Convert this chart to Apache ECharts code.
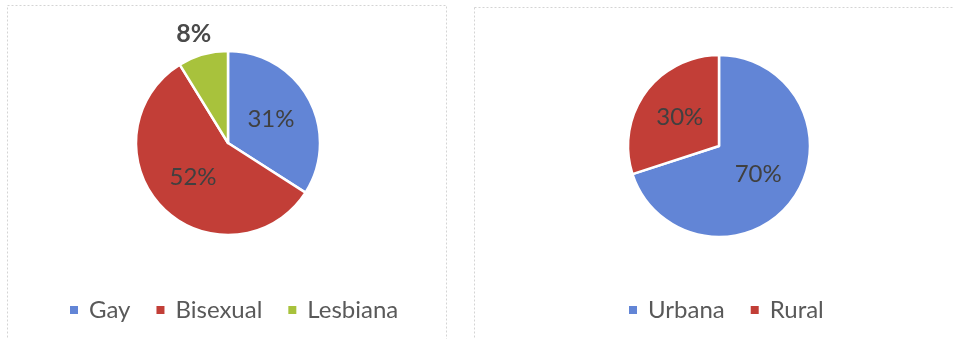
<!DOCTYPE html>
<html>
<head>
<meta charset="utf-8">
<script src="https://cdn.jsdelivr.net/npm/echarts@6/dist/echarts.min.js"></script>
<style>
  html, body { margin: 0; padding: 0; background: #fff; }
  #chart { width: 953px; height: 339px; }
</style>
</head>
<body>
<div id="chart"></div>
<script>
// Orientation (left pie) and area of residence (right pie), in percent
const orientCategories = ['Gay', 'Bisexual', 'Lesbiana'];
const orientValues = [31, 52, 8];
const areaCategories = ['Urbana', 'Rural'];
const areaValues = [70, 30];

const BLUE = '#6285d6';
const RED = '#c23e37';
const GREEN = '#a8c23c';
const TEXT = '#404040';
const FONT = 'Lato, "Open Sans", sans-serif';

const chart = echarts.init(document.getElementById('chart'), null, { renderer: 'canvas' });

function toData(names, values, colors, outsideIdx) {
  return names.map((n, i) => {
    const d = { name: n, value: values[i], itemStyle: { color: colors[i] } };
    if (i === outsideIdx) {
      d.label = { position: 'outside', distance: 6, fontSize: 25, fontWeight: 'bold', color: '#4a4a4a' };
      d.labelLine = { show: false };
    }
    return d;
  });
}

const pieBase = {
  type: 'pie',
  radius: 92,
  startAngle: 90,
  clockwise: true,
  avoidLabelOverlap: false,
  silent: true,
  itemStyle: { borderColor: '#fff', borderWidth: 2.5 },
  label: {
    show: true,
    position: 'inside',
    formatter: '{c}%',
    color: TEXT,
    fontSize: 24,
    fontFamily: FONT
  },
  labelLine: { show: false }
};

const legendBase = {
  orient: 'horizontal',
  icon: 'rect',
  itemWidth: 10,
  itemHeight: 10,
  itemGap: 24,
  top: 293,
  textStyle: { color: '#595959', fontSize: 24, fontFamily: FONT, padding: [0, 0, 0, 5] }
};

chart.setOption({
  animation: false,
  backgroundColor: '#fff',
  graphic: [
    {
      type: 'rect',
      shape: { x: 7.5, y: 5.5, width: 439, height: 345 },
      style: { fill: 'none', stroke: '#d4d4d4', lineWidth: 1, lineDash: [2, 2] },
      silent: true
    },
    {
      type: 'rect',
      shape: { x: 474.5, y: 7.5, width: 490, height: 345 },
      style: { fill: 'none', stroke: '#d4d4d4', lineWidth: 1, lineDash: [2, 2] },
      silent: true
    }
  ],
  legend: [
    Object.assign({}, legendBase, { data: orientCategories, left: 63 }),
    Object.assign({}, legendBase, { data: areaCategories, left: 622 })
  ],
  series: [
    Object.assign({}, pieBase, {
      name: 'orientacion',
      center: [228, 143],
      data: toData(orientCategories, orientValues, [BLUE, RED, GREEN], 2),
      // nudge the small outer label so it sits centred above its slice
      labelLayout: function (p) {
        if (p.dataIndex === 2) return { align: 'center', dx: 30, dy: -6 };
        return {};
      }
    }),
    Object.assign({}, pieBase, {
      name: 'area',
      center: [719, 146],
      radius: 91,
      data: toData(areaCategories, areaValues, [BLUE, RED], -1)
    })
  ]
});
</script>
</body>
</html>
